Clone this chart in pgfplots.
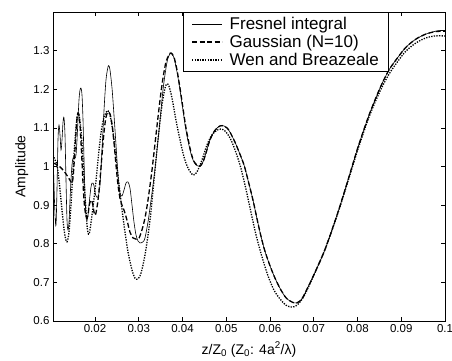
\documentclass[border=0pt]{standalone}
\usepackage{fontspec}
\setmainfont{Liberation Sans}
\usepackage{pgfplots}
\pgfplotsset{compat=1.18}
\begin{document}
\begin{tikzpicture}[x=1pt,y=1pt]
\begin{axis}[name=ax, at={(0,0)}, anchor=south west,
  scale only axis, width=392pt, height=309pt,
  xmin=0.0104, xmax=0.1, ymin=0.6, ymax=1.4,
  xtick={0.02,0.03,0.04,0.05,0.06,0.07,0.08,0.09,0.1},
  xticklabels={0.02,0.03,0.04,0.05,0.06,0.07,0.08,0.09,0.1},
  ytick={0.6,0.7,0.8,0.9,1.0,1.1,1.2,1.3},
  yticklabels={0.6,0.7,0.8,0.9,1,1.1,1.2,1.3},
  tick align=inside, major tick length=4pt,
  axis line style={line width=0.8pt},
  tick style={line width=0.6pt, black},
  ticklabel style={font=\fontsize{11.5}{13}\selectfont},
  label style={font=\fontsize{14}{16}\selectfont},
  xlabel={z/Z\textsubscript{0} (Z\textsubscript{0}: 4a\textsuperscript{2}/λ)},
  ylabel={Amplitude},
  xlabel style={at={(axis description cs:0.5,0)}, anchor=base, yshift=-33pt},
  ylabel style={at={(axis description cs:-0.08,0.5)}, anchor=center},
  legend image code/.code={\draw[#1] (0pt,0pt) -- (30pt,0pt); \path (35pt,0pt);},
  legend style={at={(0.332,1)}, anchor=north west, draw=black, line width=0.6pt,
    font=\fontsize{17}{19.5}\selectfont, cells={anchor=west}, fill=white,
    inner xsep=8pt, inner ysep=3pt, row sep=0pt},
]
\addplot[black, line width=0.6pt, smooth, tension=0.5] coordinates {
(0.0104,1.043)(0.01063,0.952)(0.01086,0.874)(0.01109,0.849)(0.01131,0.939)(0.01154,1.069)
(0.01177,1.107)(0.0120,1.082)(0.01223,1.043)(0.01246,1.069)(0.01269,1.115)(0.01291,1.126)
(0.01314,1.082)(0.01337,0.965)(0.0136,0.861)(0.01383,0.836)(0.01406,0.856)(0.01429,0.913)
(0.01451,0.965)(0.01474,1.004)(0.01497,1.022)(0.0152,1.025)(0.01543,1.022)(0.01566,1.030)
(0.01589,1.069)(0.01611,1.120)(0.01634,1.172)(0.01657,1.198)(0.0168,1.203)(0.01703,1.185)
(0.01726,1.120)(0.01749,1.017)(0.01771,0.926)(0.01794,0.874)(0.01817,0.861)(0.0184,0.874)
(0.01863,0.900)(0.01886,0.926)(0.01909,0.947)(0.01931,0.957)(0.01954,0.957)(0.01977,0.950)
(0.02,0.934)(0.02023,0.924)(0.02069,0.921)(0.02114,0.952)(0.0216,1.043)(0.02206,1.146)
(0.02251,1.224)(0.02297,1.258)(0.0232,1.260)(0.02343,1.250)(0.02389,1.203)(0.02434,1.133)
(0.0248,1.056)(0.02526,0.978)(0.02571,0.931)(0.02617,0.924)(0.02663,0.939)(0.02709,0.957)
(0.02754,0.960)(0.028,0.944)(0.02846,0.900)(0.02891,0.856)(0.02937,0.823)(0.02983,0.807)
(0.03029,0.802)(0.03097,0.805)(0.03143,0.815)(0.03211,0.856)(0.03257,0.893)(0.03326,0.952)
(0.03394,1.017)(0.03486,1.120)(0.03554,1.198)(0.03623,1.255)(0.03669,1.281)(0.03737,1.294)
(0.03806,1.281)(0.03874,1.245)(0.03943,1.198)(0.04011,1.146)(0.04079,1.094)(0.04171,1.043)
(0.0424,1.017)(0.04309,1.004)(0.044,1.001)(0.04469,1.012)(0.04537,1.035)(0.04629,1.069)
(0.04743,1.094)(0.04857,1.105)(0.04949,1.105)(0.05017,1.100)(0.05086,1.089)(0.052,1.063)
(0.05291,1.038)(0.05406,1.004)(0.05497,0.965)(0.05611,0.913)(0.05749,0.841)(0.05863,0.789)
(0.05977,0.750)(0.06114,0.711)(0.06251,0.680)(0.06366,0.660)(0.06457,0.652)(0.06549,0.647)
(0.06617,0.647)(0.06686,0.652)(0.06754,0.662)(0.06891,0.693)(0.07074,0.737)(0.0728,0.792)
(0.07554,0.882)(0.07783,0.965)(0.08011,1.050)(0.08263,1.133)(0.08514,1.203)(0.0872,1.250)
(0.08926,1.283)(0.09109,1.309)(0.09337,1.330)(0.09566,1.343)(0.09771,1.350)(0.09886,1.352)(0.1,1.352)
};
\addlegendentry{Fresnel integral}
\addplot[black, line width=1.3pt, dash pattern=on 5pt off 2.5pt, smooth, tension=0.5] coordinates {
(0.0104,1.009)(0.01109,1.006)(0.0120,0.999)(0.01291,0.988)(0.01383,0.973)(0.01451,0.960)
(0.01474,0.957)(0.01497,0.970)(0.0152,1.004)(0.01543,1.043)(0.01566,1.089)(0.01589,1.126)
(0.01611,1.139)(0.01634,1.133)(0.01657,1.107)(0.0168,1.063)(0.01703,1.012)(0.01726,0.957)
(0.01749,0.913)(0.01771,0.887)(0.01794,0.872)(0.01817,0.867)(0.0184,0.874)(0.01863,0.895)
(0.01886,0.908)(0.01909,0.913)(0.01931,0.911)(0.01954,0.898)(0.01977,0.882)(0.02,0.874)
(0.02023,0.880)(0.02069,0.913)(0.02114,0.965)(0.0216,1.030)(0.02206,1.089)(0.02251,1.128)
(0.02297,1.141)(0.02343,1.136)(0.02389,1.110)(0.02434,1.063)(0.0248,1.004)(0.02526,0.952)
(0.02571,0.918)(0.02617,0.900)(0.02663,0.887)(0.02731,0.861)(0.028,0.830)(0.02869,0.815)
(0.02937,0.812)(0.03006,0.815)(0.03074,0.836)(0.03143,0.867)(0.03211,0.913)(0.03303,0.991)
(0.03394,1.082)(0.03486,1.172)(0.03554,1.229)(0.03623,1.271)(0.03691,1.289)(0.03737,1.294)
(0.03806,1.283)(0.03874,1.250)(0.03943,1.203)(0.04011,1.151)(0.04079,1.100)(0.04171,1.048)
(0.0424,1.019)(0.04309,1.006)(0.044,1.001)(0.04469,1.012)(0.04537,1.035)(0.04629,1.069)
(0.04743,1.094)(0.04857,1.105)(0.04949,1.105)(0.05017,1.100)(0.05086,1.089)(0.052,1.063)
(0.05291,1.038)(0.05406,1.004)(0.05497,0.965)(0.05611,0.913)(0.05749,0.841)(0.05863,0.789)
(0.05977,0.750)(0.06114,0.711)(0.06251,0.680)(0.06366,0.660)(0.06457,0.652)(0.06549,0.647)
(0.06617,0.647)(0.06686,0.652)(0.06754,0.662)(0.06891,0.693)(0.07074,0.737)(0.0728,0.792)
(0.07554,0.882)(0.07783,0.965)(0.08011,1.050)(0.08263,1.133)(0.08514,1.203)(0.0872,1.250)
(0.08926,1.283)(0.09109,1.309)(0.09337,1.330)(0.09566,1.343)(0.09771,1.349)(0.09886,1.350)(0.1,1.350)
};
\addlegendentry{Gaussian (N=10)}
\addplot[black, line width=1.3pt, dash pattern=on 1.3pt off 1.3pt, smooth, tension=0.5] coordinates {
(0.0104,1.030)(0.01086,1.017)(0.01131,1.004)(0.01177,0.965)(0.01223,0.913)(0.01269,0.861)
(0.01314,0.820)(0.0136,0.805)(0.01406,0.830)(0.01451,0.900)(0.01497,0.991)(0.01543,1.069)
(0.01589,1.126)(0.01611,1.136)(0.01634,1.133)(0.0168,1.094)(0.01726,1.017)(0.01771,0.926)
(0.01817,0.849)(0.0184,0.828)(0.01863,0.825)(0.01886,0.836)(0.01931,0.874)(0.02,0.939)
(0.02069,1.017)(0.02137,1.087)(0.02206,1.128)(0.02274,1.144)(0.02297,1.144)(0.02343,1.133)
(0.02411,1.089)(0.0248,1.022)(0.02571,0.931)(0.02663,0.849)(0.02754,0.779)(0.02846,0.732)
(0.02914,0.711)(0.02983,0.709)(0.03051,0.724)(0.03143,0.771)(0.03257,0.861)(0.03349,0.965)
(0.0344,1.069)(0.03531,1.159)(0.036,1.203)(0.03646,1.214)(0.03691,1.208)(0.0376,1.177)
(0.03851,1.120)(0.03943,1.069)(0.04034,1.025)(0.04126,0.996)(0.0424,0.978)(0.04331,0.986)
(0.04446,1.017)(0.0456,1.056)(0.04674,1.082)(0.04789,1.094)(0.0488,1.097)(0.04971,1.092)
(0.05086,1.074)(0.052,1.043)(0.05314,1.004)(0.05429,0.952)(0.05543,0.893)(0.0568,0.823)
(0.05817,0.766)(0.05954,0.717)(0.06091,0.680)(0.06229,0.657)(0.06366,0.641)(0.06503,0.636)
(0.06617,0.641)(0.06754,0.660)(0.06891,0.691)(0.07074,0.737)(0.0728,0.792)(0.07554,0.880)
(0.07783,0.962)(0.08011,1.045)(0.08263,1.128)(0.08514,1.195)(0.0872,1.239)(0.08926,1.273)
(0.09109,1.299)(0.09337,1.320)(0.09566,1.333)(0.09771,1.338)(0.1,1.338)
};
\addlegendentry{Wen and Breazeale}
\end{axis}
\pgfresetboundingbox
\path[use as bounding box] (-53pt,-39pt) rectangle (399pt,321pt);
\end{tikzpicture}
\end{document}
